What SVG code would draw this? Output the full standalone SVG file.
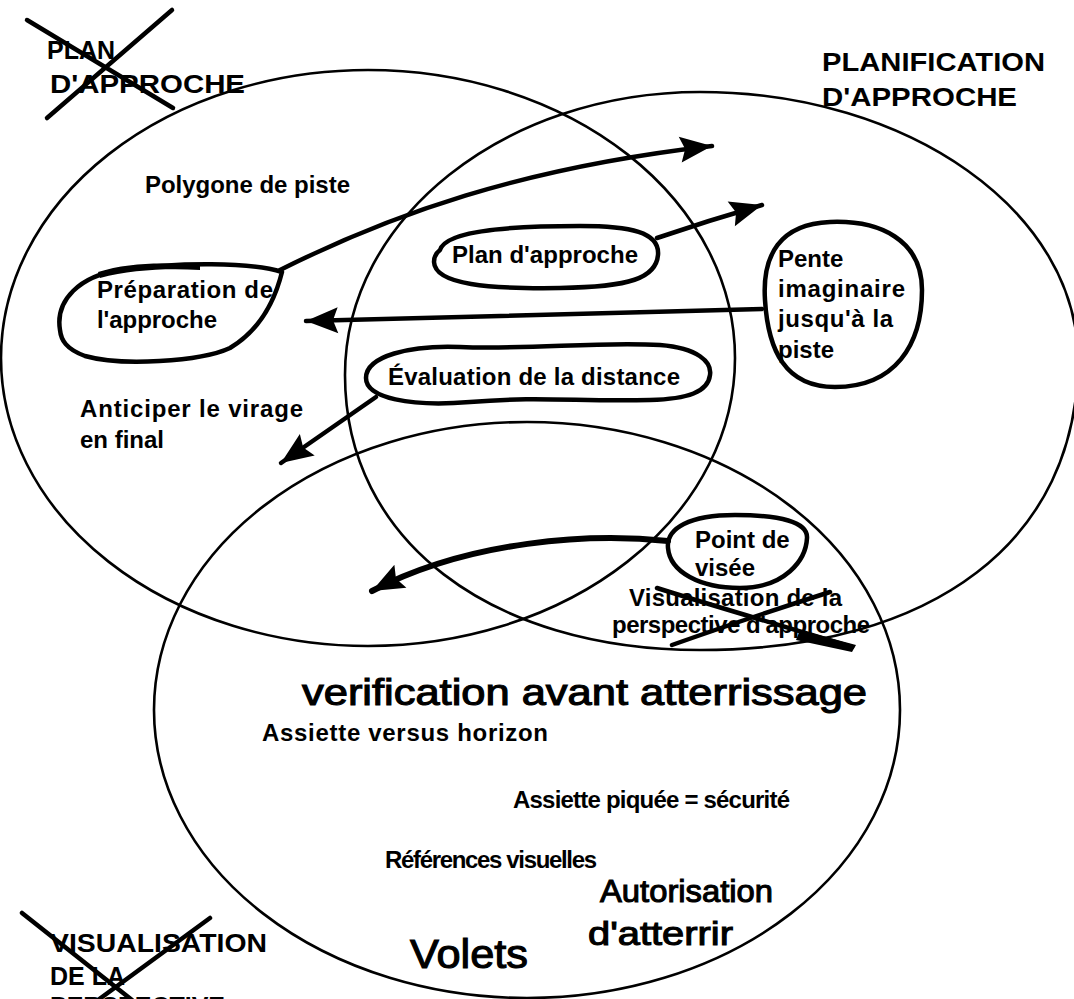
<svg xmlns="http://www.w3.org/2000/svg" width="1074" height="999" viewBox="0 0 1074 999">
  <style>
    .ring { fill: none; stroke: #000; stroke-width: 2.6; }
    .blob { fill: none; stroke: #000; stroke-width: 4.5; stroke-linejoin: round; stroke-linecap: round; }
    .link { fill: none; stroke: #000; stroke-width: 4.5; stroke-linecap: round; marker-end: url(#head); }
    .strike { fill: none; stroke: #000; stroke-width: 4.5; stroke-linecap: round; }
    .t { font-family: "Liberation Sans", Arial, sans-serif; font-weight: bold; font-size: 24px; fill: #000; }
    .h { font-family: "Liberation Sans", Arial, sans-serif; font-weight: bold; font-size: 25px; fill: #000; }
    .hw { font-family: "Liberation Sans", Arial, sans-serif; font-weight: normal; fill: #000; stroke: #000; stroke-width: 1.1; }
  </style>
  <defs>
    <marker id="head" markerUnits="userSpaceOnUse" viewBox="-34 -16 36 32" refX="0" refY="0" markerWidth="36" markerHeight="32" orient="auto">
      <path d="M0,0 L-32,-13 L-27,0 L-32,13 Z" fill="#000"/>
    </marker>
  </defs>
  <rect width="1074" height="999" fill="#fff"/>

  <!-- three overlapping sets -->
  <g id="set-polygone">
    <ellipse class="ring" cx="368" cy="358" rx="367" ry="288"/>
  </g>
  <g id="set-planification">
    <path class="ring" d="M345,375 C345,219 504,92 700,92 C909,92 1078,212 1078,360 C1078,540 934,650 700,650 C490,650 345,540 345,375 Z"/>
  </g>
  <g id="set-visualisation">
    <ellipse class="ring" cx="527" cy="710" rx="373" ry="288"/>
  </g>

  <!-- set titles -->
  <g id="title-plan">
    <text class="h" x="47" y="59" textLength="68" lengthAdjust="spacingAndGlyphs">PLAN</text>
    <text class="h" x="50" y="93" textLength="195" lengthAdjust="spacingAndGlyphs">D'APPROCHE</text>
    <path class="strike" d="M27,20 L173,108 M172,10 L47,118"/>
  </g>
  <g id="title-planification">
    <text class="h" x="822" y="71" textLength="223" lengthAdjust="spacingAndGlyphs">PLANIFICATION</text>
    <text class="h" x="822" y="106" textLength="195" lengthAdjust="spacingAndGlyphs">D'APPROCHE</text>
  </g>
  <g id="title-visualisation">
    <text class="h" x="50" y="952" textLength="217" lengthAdjust="spacingAndGlyphs">VISUALISATION</text>
    <text class="h" x="50" y="985">DE LA</text>
    <text class="h" x="50" y="1015">PERSPECTIVE</text>
    <path class="strike" d="M22,913 L132,1000 M210,918 L98,1000"/>
  </g>

  <!-- plain items -->
  <g id="item-polygone">
    <text class="t" x="145" y="193" textLength="205">Polygone de piste</text>
  </g>
  <g id="item-anticiper">
    <text class="t" x="80" y="417" textLength="223">Anticiper le virage</text>
    <text class="t" x="80" y="448">en final</text>
  </g>
  <g id="item-assiette-horizon">
    <text class="t" x="262" y="741" textLength="286">Assiette versus horizon</text>
  </g>
  <g id="item-assiette-piquee">
    <text class="t" x="513" y="808" textLength="277">Assiette piquée = sécurité</text>
  </g>
  <g id="item-references">
    <text class="t" x="385" y="868" textLength="212">Références visuelles</text>
  </g>
  <g id="item-visualisation-perspective">
    <text class="t" x="629" y="606" font-size="21" textLength="213">Visualisation de la</text>
    <text class="t" x="612" y="633" font-size="21" textLength="258">perspective d'approche</text>
    <path class="strike" d="M657,588 C720,608 790,628 852,647"/>
    <path d="M800,630 L856,645 L852,652 L796,640 Z" fill="#000"/>
    <path class="strike" d="M672,645 C720,628 780,608 830,592"/>
  </g>

  <!-- handwritten notes -->
  <g id="note-verification">
    <text class="hw" x="302" y="705" font-size="36" textLength="565" lengthAdjust="spacingAndGlyphs">verification avant atterrissage</text>
  </g>
  <g id="note-volets">
    <text class="hw" x="410" y="968" font-size="40" textLength="118" lengthAdjust="spacingAndGlyphs">Volets</text>
  </g>
  <g id="note-autorisation">
    <text class="hw" x="600" y="902" font-size="32" textLength="173" lengthAdjust="spacingAndGlyphs">Autorisation</text>
    <text class="hw" x="588" y="945" font-size="34" textLength="145" lengthAdjust="spacingAndGlyphs">d'atterrir</text>
  </g>

  <!-- circled nodes -->
  <g id="node-preparation">
    <path class="blob" d="M60,330 C55,300 80,276 120,270 C180,262 250,262 282,272 C275,300 260,330 230,348 C200,362 120,366 85,356 C66,349 61,340 60,330 Z"/>
    <path d="M98,272 C130,262 170,262 200,266 L200,270 C165,268 130,270 100,278 Z" fill="#000"/>
    <text class="t" x="97" y="298" textLength="176">Préparation de</text>
    <text class="t" x="97" y="328" textLength="120">l'approche</text>
  </g>
  <g id="node-plan">
    <path class="blob" d="M440,250 C446,229 520,226 580,226 C630,226 660,232 658,255 C656,278 630,287 560,288 C490,289 435,285 434,262 C434,257 436,253 440,250 Z"/>
    <text class="t" x="452" y="263" textLength="186">Plan d'approche</text>
  </g>
  <g id="node-pente">
    <path class="blob" d="M765,300 C762,255 780,224 830,222 C880,220 922,240 922,290 C922,345 895,387 835,387 C785,387 768,350 765,300 Z"/>
    <text class="t" x="778" y="267">Pente</text>
    <text class="t" x="778" y="297" textLength="127">imaginaire</text>
    <text class="t" x="778" y="327" textLength="115">jusqu'à la</text>
    <text class="t" x="778" y="358">piste</text>
  </g>
  <g id="node-evaluation">
    <path class="blob" d="M366,378 C366,356 410,345 460,347 C530,350 600,341 660,345 C698,348 712,362 710,375 C708,392 688,399 650,400 C580,402 540,396 470,402 C410,407 366,398 366,378 Z"/>
    <text class="t" x="388" y="385" textLength="292">Évaluation de la distance</text>
  </g>
  <g id="node-point">
    <path class="blob" d="M668,548 C666,528 690,515 735,515 C780,515 808,522 807,538 C806,560 785,588 740,588 C700,588 670,572 668,548 Z"/>
    <text class="t" x="695" y="548">Point de</text>
    <text class="t" x="695" y="576">visée</text>
  </g>

  <!-- arrows between items -->
  <g id="connectors">
    <path class="link" d="M280,270 C390,215 520,168 712,146"/>
    <path class="link" d="M657,238 Q710,220 762,205"/>
    <path class="link" d="M762,309 L306,321"/>
    <path class="link" d="M376,397 L281,463"/>
    <path class="link" style="stroke-width:6" d="M668,541 C590,533 470,540 372,591"/>
  </g>
</svg>
